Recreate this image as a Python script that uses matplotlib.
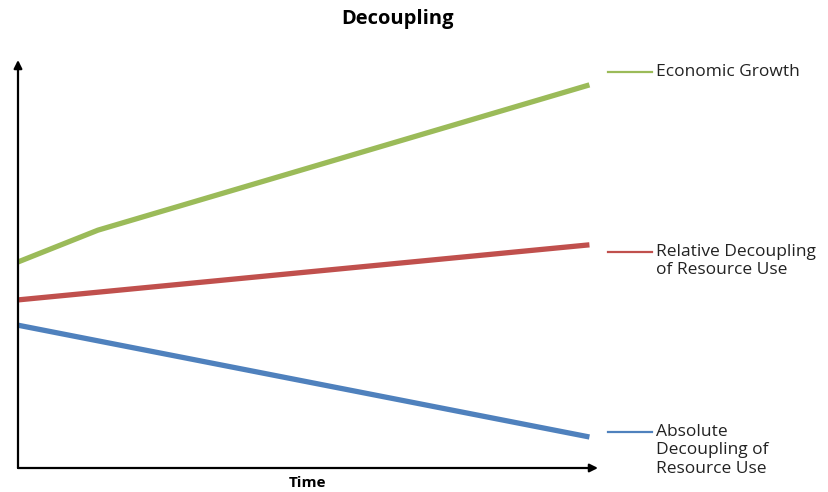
import matplotlib.pyplot as plt

# Conceptual decoupling chart data (arbitrary units)
growth_x = [0, 1.4, 10]
growth_y = [50.5, 58.3, 93.9]
relative_x = [0, 10]
relative_y = [41.2, 54.7]
absolute_x = [0, 10]
absolute_y = [35.0, 7.6]

labels = ['Economic Growth', 'Relative Decoupling\nof Resource Use',
          'Absolute\nDecoupling of\nResource Use']
colors = ['#9BBB59', '#C0504D', '#4F81BD']
label_y = [72, 252, 432]  # pixel rows of the label lines

W, H = 829, 492
fig = plt.figure(figsize=(W / 100, H / 100), dpi=100)
ax = fig.add_axes([18 / W, 1 - 468 / H, 580 / W, 408 / H])
ax.set_xlim(0, 10.15)
ax.set_ylim(0, 100)
ax.axis('off')

ax.plot(growth_x, growth_y, color=colors[0], lw=3.8, solid_capstyle='butt')
ax.plot(relative_x, relative_y, color=colors[1], lw=3.8, solid_capstyle='butt')
ax.plot(absolute_x, absolute_y, color=colors[2], lw=3.8, solid_capstyle='butt')

# axes with arrow heads
arrow = dict(arrowstyle='-|>', color='black', lw=1.6, mutation_scale=12,
             shrinkA=0, shrinkB=0)
ax.annotate('', xy=(0, 1), xytext=(0, 0), xycoords='axes fraction', arrowprops=arrow)
ax.annotate('', xy=(1, 0), xytext=(0, 0), xycoords='axes fraction', arrowprops=arrow)

fig.text(398 / W, 1 - 19 / H, 'Decoupling', ha='center', va='center',
         fontsize=14.5, fontweight='bold', family='Open Sans')
fig.text(308 / W, 1 - 483 / H, 'Time', ha='center', va='center',
         fontsize=11, fontweight='bold', family='Open Sans')

for lab, c, py in zip(labels, colors, label_y):
    fig.add_artist(plt.Line2D([608 / W, 652 / W], [1 - py / H, 1 - py / H],
                              color=c, lw=1.6))
    fig.text(656 / W, 1 - (py - 8) / H, lab, ha='left', va='top',
             fontsize=12.5, family='Open Sans', color='#222222', linespacing=1.2)

fig.savefig('out.png', dpi=100, facecolor='white')
